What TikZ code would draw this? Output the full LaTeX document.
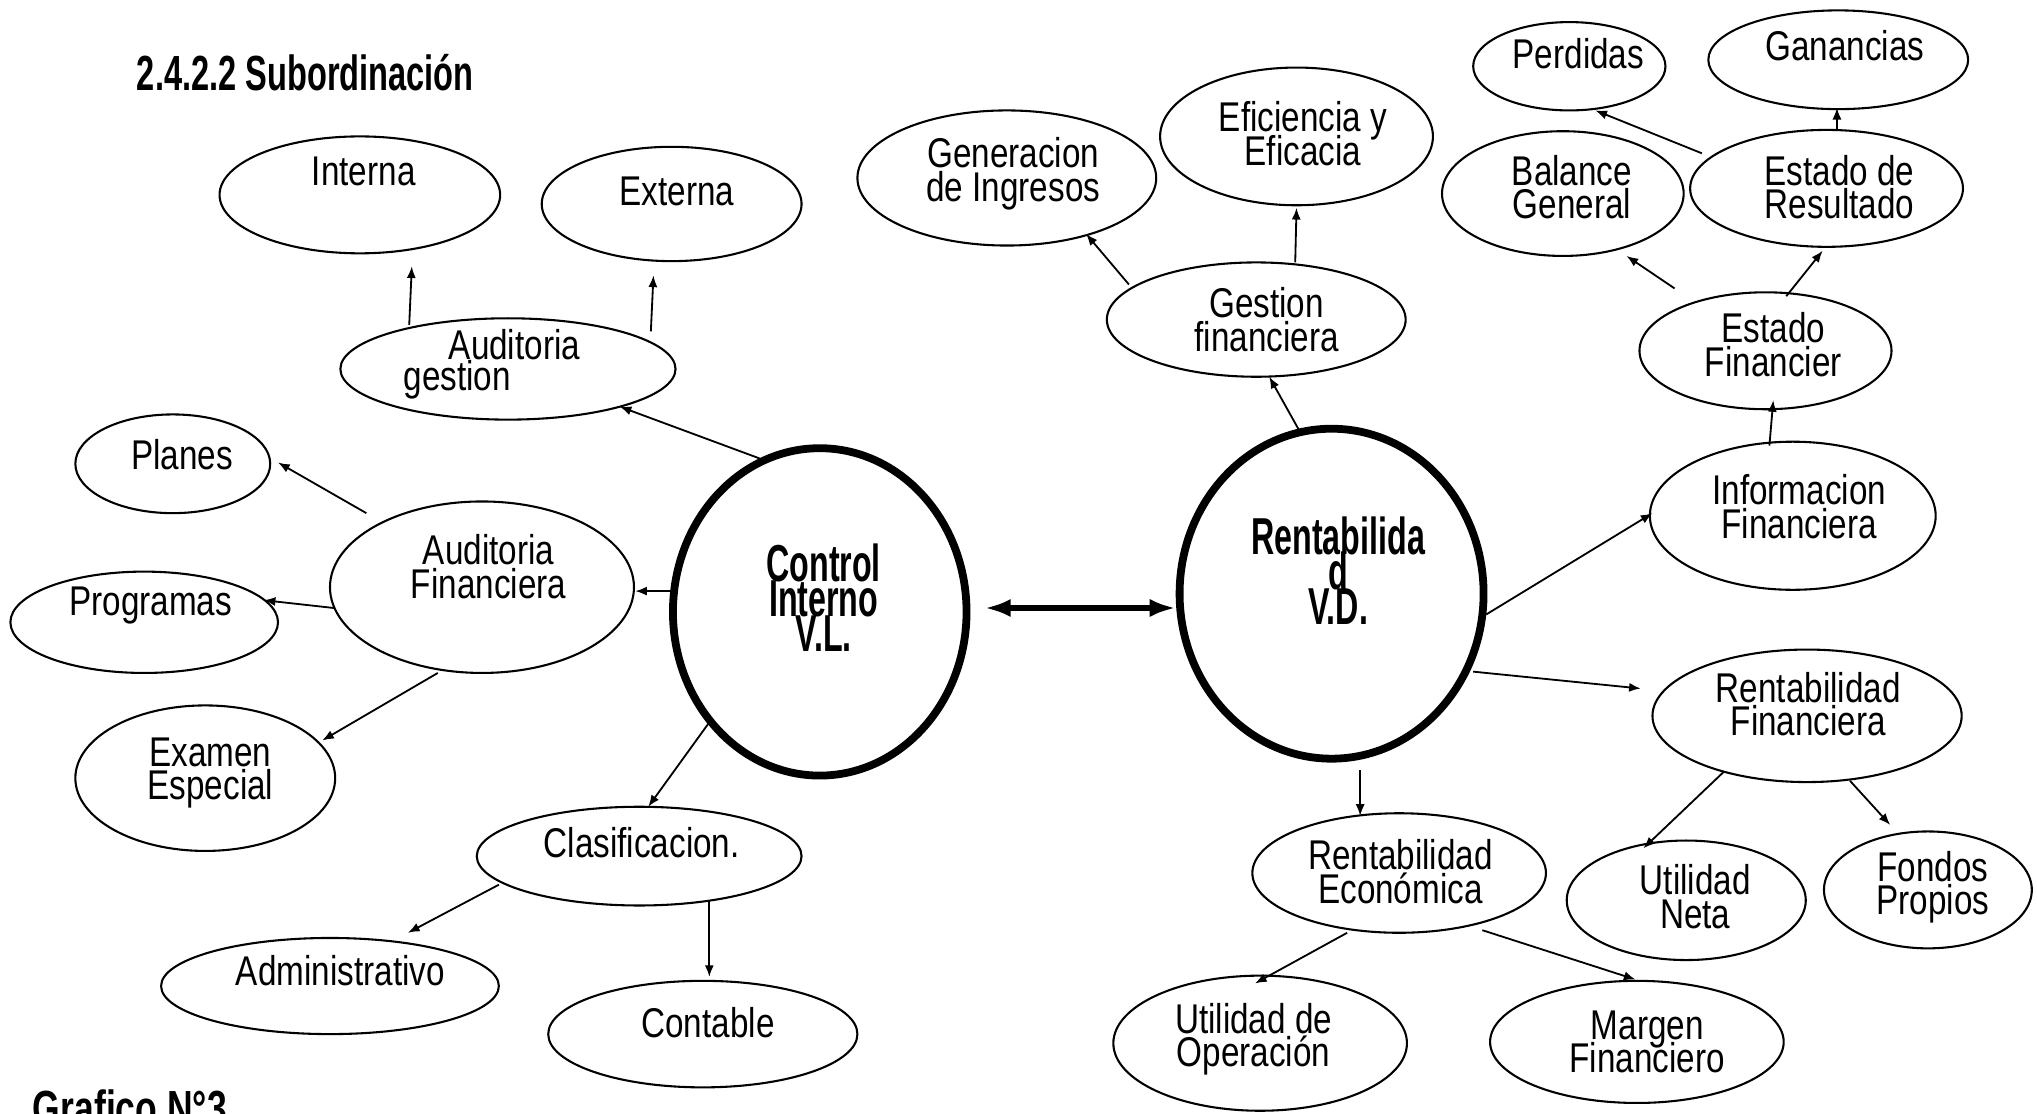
\documentclass[tikz,border=0pt]{standalone}
\usepackage{fontspec}
\setmainfont{Liberation Sans}
\usetikzlibrary{shapes.geometric,arrows.meta,calc}

% stacked, centred lines with a fixed (tight) baseline distance
\newcommand\lines[1]{\vbox{\lineskiplimit=-50pt\lineskip=0pt\halign{\hfil##\hfil\cr#1\crcr}}}
% condensed label texts
\newcommand\nl[1]{\scalebox{0.8}[1]{\lines{#1}}}
\newcommand\bl[1]{\scalebox{0.62}[1]{\lines{#1}}}

\tikzset{
  ell/.style={draw, ellipse, line width=0.8pt, inner sep=0pt},
  hub/.style={draw, ellipse, line width=3pt, inner sep=0pt},
  lbl/.style={inner sep=0pt, font=\fontsize{16}{13}\selectfont},
  hublbl/.style={inner sep=0pt, font=\fontsize{20}{13.5}\selectfont\bfseries},
  headline/.style={inner sep=0pt, font=\fontsize{19}{22}\selectfont\bfseries},
  arr/.style={-{Latex[length=4.5pt,width=3.5pt]}, line width=0.7pt},
  link/.style={{Latex[length=10pt,width=7pt]}-{Latex[length=10pt,width=7pt]}, line width=2pt},
}
\newcommand\elnode[4]{\node[ell, minimum width=#3pt, minimum height=#4pt] (#1) at (#2) {};}

\begin{document}
\begin{tikzpicture}[x=0.5pt, y=-0.5pt]
\useasboundingbox (0,0) rectangle (1568,857);
\fill[white] (0,0) rectangle (1568,857);
\clip (0,0) rectangle (1568,857);

% ---------- headings ----------
\node[headline, anchor=base west] (titulo) at (105,70) {\scalebox{0.66}[1]{2.4.2.2 Subordinación}};
\node[headline, anchor=base west] (grafico) at (25,866) {\scalebox{0.72}[1]{Grafico N°3}};

% ---------- central circles ----------
\node[hub, minimum width=113pt, minimum height=126pt] (control) at (631,471) {};
\node[hub, minimum width=117pt, minimum height=127pt] (rent) at (1025,457) {};
\node[hublbl] (controlT) at (634,460) {\bl{Control\cr Interno\cr V.L.}};
\node[hublbl] (rentT) at (1030,439) {\bl{Rentabilida\cr d\cr V.D.}};

% ---------- left branch ----------
\elnode{interna}{277,150}{108}{45}
\elnode{externa}{517,157}{100}{44}
\elnode{audges}{391,284}{129}{39}
\elnode{planes}{133,357}{75}{38}
\elnode{audfin}{371,452}{117}{66}
\elnode{programas}{111,479}{103}{39}
\elnode{examen}{158,599}{100}{56}
\elnode{clasif}{492,659}{125}{38}
\elnode{admin}{254,759}{130}{37}
\elnode{contable}{541,796}{119}{41}

\node[lbl] (internaT) at (280,132) {\nl{Interna}};
\node[lbl] (externaT) at (521,147) {\nl{Externa}};
\node[lbl] (audgesT1) at (396,265) {\nl{Auditoria}};
\node[lbl] (audgesT2) at (352,292) {\nl{gestion}};
\node[lbl] (planesT) at (140,350) {\nl{Planes}};
\node[lbl] (audfinT) at (376,436) {\nl{Auditoria\cr Financiera}};
\node[lbl] (programasT) at (116,466) {\nl{Programas}};
\node[lbl] (examenT) at (162,595) {\nl{Examen\cr Especial}};
\node[lbl] (clasifT) at (494,649) {\nl{Clasificacion.}};
\node[lbl] (adminT) at (262,747) {\nl{Administrativo}};
\node[lbl] (contableT) at (545,787) {\nl{Contable}};

% ---------- right branch ----------
\elnode{gestfin}{967,246}{115}{44}
\elnode{geningr}{775,137}{115}{52}
\elnode{efic}{998,105}{105}{53}
\elnode{perdidas}{1208,51}{74}{34}
\elnode{ganancias}{1415,46}{100}{38}
\elnode{balance}{1203,149}{93}{48}
\elnode{estres}{1406,145}{105}{45}
\elnode{estfin}{1359,270}{97}{45}
\elnode{info}{1380,397}{110}{57}
\elnode{rentfin}{1391,551}{119}{51}
\elnode{utilneta}{1298,693}{92}{46}
\elnode{fondos}{1484,685}{80}{45}
\elnode{renteco}{1077,672}{113}{46}
\elnode{utilop}{970,803}{113}{52}
\elnode{margen}{1260,802}{113}{47}

\node[lbl] (gestfinT) at (975,246) {\nl{Gestion\cr financiera}};
\node[lbl] (geningrT) at (780,134) {\nl{Generacion\cr de Ingresos}};
\node[lbl] (eficT) at (1003,103) {\nl{Eficiencia y\cr Eficacia}};
\node[lbl] (perdidasT) at (1215,41) {\nl{Perdidas}};
\node[lbl] (gananciasT) at (1420,35) {\nl{Ganancias}};
\node[lbl] (balanceT) at (1210,144) {\nl{Balance\cr General}};
\node[lbl] (estresT) at (1416,144) {\nl{Estado de\cr Resultado}};
\node[lbl] (estfinT) at (1365,265) {\nl{Estado\cr Financier}};
\node[lbl] (infoT) at (1385,390) {\nl{Informacion\cr Financiera}};
\node[lbl] (rentfinT) at (1392,542) {\nl{Rentabilidad\cr Financiera}};
\node[lbl] (utilnetaT) at (1305,690) {\nl{Utilidad\cr Neta}};
\node[lbl] (fondosT) at (1488,683) {\nl{Fondos\cr Propios}};
\node[lbl] (rentecoT) at (1078,671) {\nl{Rentabilidad\cr Económica}};
\node[lbl] (utilopT) at (965,800) {\nl{Utilidad de\cr Operación}};
\node[lbl] (margenT) at (1268,802) {\nl{Margen\cr Financiero}};

% ---------- connectors ----------
\draw[link] ($(control)+(127,-3)$) -- ($(rent)+(-120,11)$);

\draw[arr] ($(audges)+(-76,-34)$) -- ($(interna)+(40,55)$);
\draw[arr] ($(audges)+(110,-29)$) -- ($(externa)+(-14,55)$);
\draw[arr] ($(control)+(-46,-118)$) -- ($(audges)+(86,29)$);
\draw[arr] ($(control)+(-113,-16)$) -- ($(audfin)+(118,3)$);
\draw[arr] ($(audfin)+(-89,-57)$) -- ($(planes)+(81,-1)$);
\draw[arr] ($(audfin)+(-114,16)$) -- ($(programas)+(92,-17)$);
\draw[arr] ($(audfin)+(-34,66)$) -- ($(examen)+(90,-29)$);
\draw[arr] ($(control)+(-85,85)$) -- ($(clasif)+(7,-38)$);
\draw[arr] ($(clasif)+(-108,22)$) -- ($(admin)+(60,-41)$);
\draw[arr] ($(clasif)+(54,34)$) -- ($(contable)+(5,-44)$);

\draw[arr] ($(rent)+(-24,-124)$) -- ($(gestfin)+(10,44)$);
\draw[arr] ($(gestfin)+(-98,-27)$) -- ($(geningr)+(61,43)$);
\draw[arr] ($(gestfin)+(30,-44)$) -- ($(efic)+(0,55)$);
\draw[arr] ($(estres)+(-96,-27)$) -- ($(perdidas)+(20,34)$);
\draw[arr] ($(estres)+(8,-45)$) -- ($(ganancias)+(-1,37)$);
\draw[arr] ($(estfin)+(-70,-48)$) -- ($(balance)+(49,48)$);
\draw[arr] ($(estfin)+(16,-42)$) -- ($(estres)+(-3,48)$);
\draw[arr] ($(info)+(-18,-54)$) -- ($(estfin)+(6,38)$);
\draw[arr] ($(rent)+(119,16)$) -- ($(info)+(-108,-2)$);
\draw[arr] ($(rent)+(109,60)$) -- ($(rentfin)+(-128,-21)$);
\draw[arr] ($(rentfin)+(-64,43)$) -- ($(utilneta)+(-33,-40)$);
\draw[arr] ($(rentfin)+(33,50)$) -- ($(fondos)+(-29,-50)$);
\draw[arr] ($(rent)+(22,136)$) -- ($(renteco)+(-30,-44)$);
\draw[arr] ($(renteco)+(-40,46)$) -- ($(utilop)+(-4,-46)$);
\draw[arr] ($(renteco)+(64,44)$) -- ($(margen)+(-1,-48)$);
\end{tikzpicture}
\end{document}
